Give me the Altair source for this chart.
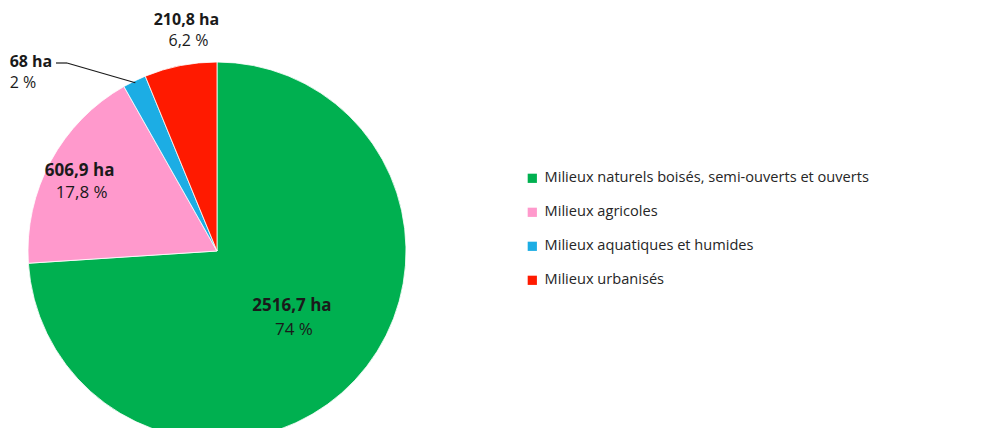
import altair as alt
import pandas as pd

categories = [
    "Milieux naturels boisés, semi-ouverts et ouverts",
    "Milieux agricoles",
    "Milieux aquatiques et humides",
    "Milieux urbanisés",
]
areas = [2516.7, 606.9, 68, 210.8]
area_labels = ["2516,7 ha", "606,9 ha", "68 ha", "210,8 ha"]
pct_labels = ["74 %", "17,8 %", "2 %", "6,2 %"]
colors = ["#00B050", "#FF99CC", "#1CADE4", "#FF1A00"]

df = pd.DataFrame({
    "cat": categories,
    "area": areas,
    "area_label": area_labels,
    "pct_label": pct_labels,
    "idx": list(range(len(categories))),
})

FONT = "Open Sans"
CX, CY, R = 209, 243, 189

theta = alt.Theta("area:Q", stack=True)
order = alt.Order("idx:Q")

pie = alt.Chart(df).mark_arc(outerRadius=R, stroke="white", strokeWidth=0.8).encode(
    theta=theta,
    order=order,
    x=alt.value(CX),
    y=alt.value(CY),
    color=alt.Color(
        "cat:N",
        scale=alt.Scale(domain=categories, range=colors),
        legend=alt.Legend(
            title=None,
            orient="none",
            legendX=517,
            legendY=163,
            symbolType="square",
            symbolSize=85,
            symbolStrokeWidth=0,
            labelFont=FONT,
            labelFontSize=14.6,
            labelColor="#262626",
            labelOffset=5,
            labelLimit=0,
            rowPadding=19,
        ),
    ),
)

# label styles per category: (radius, dx, dy_line1, dy_line2, font size, align)
label_styles = {
    categories[0]: (100, 2, -13, 11, 17, "center"),
    categories[1]: (155, -1, -6, 16, 17, "center"),
    categories[2]: (200, -120, -9, 12, 16, "left"),
    categories[3]: (220, 12, -15, 6, 16, "center"),
}

layers = [pie]
for cat, (r, dx, dy1, dy2, fs, align) in label_styles.items():
    for field, dy, weight in (("area_label", dy1, "bold"), ("pct_label", dy2, "normal")):
        layers.append(
            alt.Chart(df).mark_text(
                radius=r, dx=dx + (0 if field == "area_label" or align == "left" else 2), dy=dy,
                font=FONT, fontSize=fs, fontWeight=weight, color="#1a1a1a",
                align=align, baseline="middle",
            ).encode(
                theta=theta,
                order=order,
                detail="cat:N",
                x=alt.value(CX),
                y=alt.value(CY),
                text=alt.condition(alt.datum.cat == cat, f"{field}:N", alt.value("")),
            )
        )

# leader line for the small slice
leader = alt.Chart(df).transform_joinaggregate(
    total="sum(area)"
).transform_window(
    cum="sum(area)", sort=[alt.SortField("idx")], frame=[None, 0]
).transform_calculate(
    mid="(datum.cum - datum.area / 2) / datum.total * 2 * PI",
    ex=f"{CX} + {R - 2} * sin(datum.mid)",
    ey=f"{CY} - {R - 2} * cos(datum.mid)",
).transform_filter(
    alt.datum.cat == categories[2]
).mark_rule(color="#1a1a1a", strokeWidth=1.2).encode(
    x=alt.X("ex:Q", scale=None, axis=None),
    y=alt.Y("ey:Q", scale=None, axis=None),
    x2=alt.value(59),
    y2=alt.value(55),
)
leader_h = alt.Chart(df).transform_filter(
    alt.datum.cat == categories[2]
).mark_rule(color="#1a1a1a", strokeWidth=1.2).encode(
    x=alt.value(48), x2=alt.value(59), y=alt.value(55)
)
layers += [leader, leader_h]

chart = alt.layer(*layers).properties(
    width=976, height=420, padding=0, autosize="none", background="white"
).configure_view(strokeWidth=0, stroke=None)

chart.save("out.html", embed_options={"renderer": "svg", "actions": False})
